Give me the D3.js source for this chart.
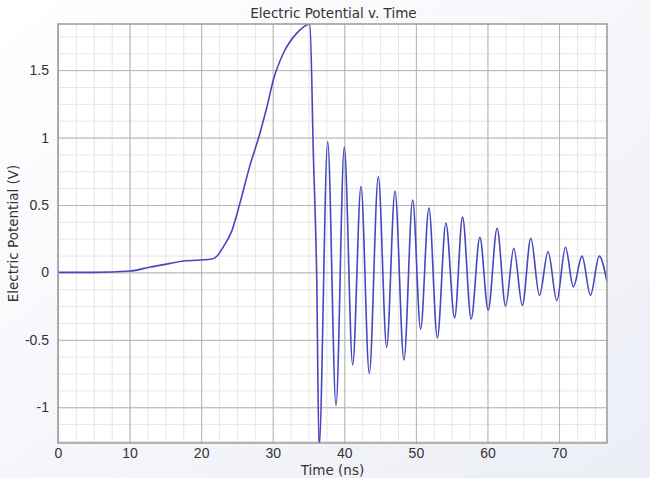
<!DOCTYPE html>
<html>
<head>
<meta charset="utf-8">
<script src="https://cdn.jsdelivr.net/npm/d3@7"></script>
<style>
  body { margin: 0; background: #fff; }
  svg { display: block; font-family: "DejaVu Sans", Verdana, sans-serif; }
  .tick text { fill: #333; font-size: 14px; }
  .grid-minor line { stroke: #e6e6e6; stroke-width: 1; }
  .grid-major line { stroke: #b4b4b4; stroke-width: 1; }
  .domain { display: none; }
</style>
</head>
<body>
<div id="chart"></div>
<script>
// --- data: time (ns) and potential (V) ---
const times = [0, 5, 10.1, 12.9, 15.5, 17.5, 21.3, 22.2, 23.1, 24.3, 25.4, 26.8, 28.2, 29.2, 30.1,
  31.5, 33.4, 34.75, 35.2, 35.67, 36.15, 36.47,
  37.68, 38.84, 40.0, 41.17, 42.33, 43.49, 44.75, 45.92, 47.08, 48.33, 49.55, 50.66, 51.82, 53.0,
  54.19, 55.41, 56.52, 57.72, 58.94, 60.1, 61.35, 62.53, 63.68, 64.87, 66.06, 67.26, 68.47, 69.69,
  70.9, 72.0, 73.21, 74.39, 75.62, 76.7];
const potential = [0, 0.0, 0.01, 0.04, 0.065, 0.084, 0.097, 0.12, 0.19, 0.31, 0.51, 0.79, 1.03, 1.23, 1.43,
  1.627, 1.776, 1.835, 1.842, 0.886, -0.057, -1.3,
  0.97, -0.986, 0.93, -0.686, 0.638, -0.75, 0.71, -0.555, 0.604, -0.65, 0.537, -0.42, 0.478, -0.485,
  0.366, -0.337, 0.41, -0.345, 0.26, -0.28, 0.327, -0.25, 0.178, -0.245, 0.253, -0.17, 0.153, -0.21,
  0.186, -0.107, 0.121, -0.169, 0.121, -0.07];

const xTicks = [0, 10, 20, 30, 40, 50, 60, 70];
const yTicks = [-1, -0.5, 0, 0.5, 1, 1.5];

const W = 650, H = 478;
const margin = { top: 24, right: 43, bottom: 35, left: 58 };
const width = W - margin.left - margin.right;
const height = H - margin.top - margin.bottom;

const svg = d3.select("#chart").append("svg")
  .attr("width", W)
  .attr("height", H);

// soft page background
const grad = svg.append("defs").append("linearGradient")
  .attr("id", "bg").attr("x1", 0).attr("y1", 0).attr("x2", 1).attr("y2", 1);
grad.append("stop").attr("offset", "0%").attr("stop-color", "#ffffff");
grad.append("stop").attr("offset", "100%").attr("stop-color", "#eceef6");
svg.append("rect").attr("width", W).attr("height", H).attr("fill", "url(#bg)");

svg.select("defs").append("clipPath").attr("id", "clip")
  .append("rect").attr("width", width).attr("height", height);

const chart = svg.append("g")
  .attr("transform", `translate(${margin.left},${margin.top})`);

chart.append("rect")
  .attr("width", width).attr("height", height)
  .attr("fill", "#fff");

// --- scales ---
const x = d3.scaleLinear().domain([0, 76.7]).range([0, width]);
const y = d3.scaleLinear().domain([-1.265, 1.842]).range([height, 0]);

// --- grid ---
chart.append("g").attr("class", "grid-minor")
  .attr("transform", `translate(0,${height})`)
  .call(d3.axisBottom(x).tickValues(d3.range(0, 76.7, 2.5)).tickSize(-height).tickFormat(""));
chart.append("g").attr("class", "grid-minor")
  .call(d3.axisLeft(y).tickValues(d3.range(-1.25, 1.842, 0.125)).tickSize(-width).tickFormat(""));
chart.append("g").attr("class", "grid-major")
  .attr("transform", `translate(0,${height})`)
  .call(d3.axisBottom(x).tickValues(xTicks).tickSize(-height).tickFormat(""));
chart.append("g").attr("class", "grid-major")
  .call(d3.axisLeft(y).tickValues(yTicks).tickSize(-width).tickFormat(""));

// --- axes labels ---
chart.append("g")
  .attr("transform", `translate(0,${height})`)
  .call(d3.axisBottom(x).tickValues(xTicks).tickSize(0).tickPadding(5).tickFormat(d3.format("d")));
chart.append("g")
  .call(d3.axisLeft(y).tickValues(yTicks).tickSize(0).tickPadding(9).tickFormat(d => d));

// --- line ---
const line = d3.line()
  .x((d, i) => x(times[i]))
  .y(d => y(d))
  .curve(d3.curveMonotoneX);

chart.append("path")
  .datum(potential)
  .attr("clip-path", "url(#clip)")
  .attr("fill", "none")
  .attr("stroke", "#4646c0")
  .attr("stroke-width", 1.6)
  .attr("stroke-linejoin", "round")
  .attr("d", line);

// frame
chart.append("rect")
  .attr("width", width).attr("height", height)
  .attr("fill", "none")
  .attr("stroke", "#9a9a9a")
  .attr("stroke-width", 1.5);

// --- titles ---
svg.append("text")
  .attr("x", margin.left + width / 2 + 1)
  .attr("y", 18)
  .attr("text-anchor", "middle")
  .attr("fill", "#333")
  .style("font-size", "13.5px")
  .text("Electric Potential v. Time");

svg.append("text")
  .attr("x", margin.left + width / 2)
  .attr("y", 475)
  .attr("text-anchor", "middle")
  .attr("fill", "#333")
  .style("font-size", "13.5px")
  .text("Time (ns)");

svg.append("text")
  .attr("transform", `translate(18,${margin.top + height / 2}) rotate(-90)`)
  .attr("text-anchor", "middle")
  .attr("fill", "#333")
  .style("font-size", "13.5px")
  .text("Electric Potential (V)");
</script>
</body>
</html>
